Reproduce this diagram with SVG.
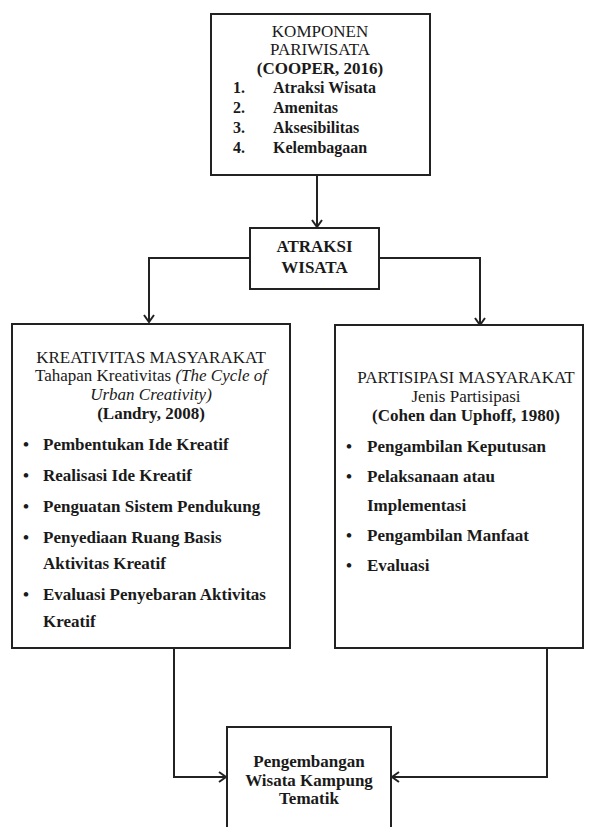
<svg xmlns="http://www.w3.org/2000/svg" width="596" height="827" viewBox="0 0 596 827">
<style>
  .box { fill: #fff; stroke: #222; stroke-width: 2; }
  .conn { fill: none; stroke: #222; stroke-width: 2; }
  text { font-family: "Liberation Serif", "Times New Roman", serif; font-size: 17px; fill: #1a1a1a; }
  .b { font-weight: bold; }
  .i { font-style: italic; }
  .c { text-anchor: middle; }
  .s16 { font-size: 16px; }
</style>
<defs>
  <marker id="arr" markerWidth="12" markerHeight="12" refX="10" refY="6" orient="auto" markerUnits="userSpaceOnUse">
    <path d="M3,1 L10,6 L3,11" fill="none" stroke="#222" stroke-width="2"/>
  </marker>
</defs>

<g id="connectors">
  <path class="conn" d="M317,175 L317,227" marker-end="url(#arr)"/>
  <path class="conn" d="M250,258 L149,258 L149,322" marker-end="url(#arr)"/>
  <path class="conn" d="M379,258 L480,258 L480,325" marker-end="url(#arr)"/>
  <path class="conn" d="M174,648 L174,777 L226,777" marker-end="url(#arr)"/>
  <path class="conn" d="M547,648 L547,777 L392,777" marker-end="url(#arr)"/>
</g>

<g id="komponen">
  <rect class="box" x="211" y="14" width="219" height="161"/>
  <text class="c" x="320" y="37">KOMPONEN</text>
  <text class="c" x="320" y="55">PARIWISATA</text>
  <text class="c b" x="320" y="74">(COOPER, 2016)</text>
  <text class="b s16" x="233" y="93">1.</text><text class="b s16" x="273" y="93">Atraksi Wisata</text>
  <text class="b s16" x="233" y="113">2.</text><text class="b s16" x="273" y="113">Amenitas</text>
  <text class="b s16" x="233" y="133">3.</text><text class="b s16" x="273" y="133">Aksesibilitas</text>
  <text class="b s16" x="233" y="153">4.</text><text class="b s16" x="273" y="153">Kelembagaan</text>
</g>

<g id="atraksi">
  <rect class="box" x="250" y="228" width="129" height="61"/>
  <text class="c b" x="314.5" y="252">ATRAKSI</text>
  <text class="c b" x="314.5" y="273">WISATA</text>
</g>

<g id="kreativitas">
  <rect class="box" x="12" y="324" width="278" height="324"/>
  <text class="c" x="151" y="363">KREATIVITAS MASYARAKAT</text>
  <text class="c" x="151" y="381">Tahapan Kreativitas <tspan class="i">(The Cycle of</tspan></text>
  <text class="c i" x="151" y="400">Urban Creativity)</text>
  <text class="c b" x="151" y="419">(Landry, 2008)</text>
  <text class="b" x="23" y="450">•</text><text class="b" x="43" y="450">Pembentukan Ide Kreatif</text>
  <text class="b" x="23" y="481">•</text><text class="b" x="43" y="481">Realisasi Ide Kreatif</text>
  <text class="b" x="23" y="512">•</text><text class="b" x="43" y="512">Penguatan Sistem Pendukung</text>
  <text class="b" x="23" y="543">•</text><text class="b" x="43" y="543">Penyediaan Ruang Basis</text>
  <text class="b" x="43" y="569">Aktivitas Kreatif</text>
  <text class="b" x="23" y="600">•</text><text class="b" x="43" y="600">Evaluasi Penyebaran Aktivitas</text>
  <text class="b" x="43" y="627">Kreatif</text>
</g>

<g id="partisipasi">
  <rect class="box" x="335" y="325" width="248" height="323"/>
  <text class="c" x="466" y="383">PARTISIPASI MASYARAKAT</text>
  <text class="c" x="466" y="402">Jenis Partisipasi</text>
  <text class="c b" x="466" y="421">(Cohen dan Uphoff, 1980)</text>
  <text class="b" x="346" y="452">•</text><text class="b" x="367" y="452">Pengambilan Keputusan</text>
  <text class="b" x="346" y="482">•</text><text class="b" x="367" y="482">Pelaksanaan atau</text>
  <text class="b" x="367" y="511">Implementasi</text>
  <text class="b" x="346" y="541">•</text><text class="b" x="367" y="541">Pengambilan Manfaat</text>
  <text class="b" x="346" y="571">•</text><text class="b" x="367" y="571">Evaluasi</text>
</g>

<g id="pengembangan">
  <rect class="box" x="227" y="727" width="164" height="110"/>
  <text class="c b" x="309" y="767">Pengembangan</text>
  <text class="c b" x="309" y="786">Wisata Kampung</text>
  <text class="c b" x="309" y="804">Tematik</text>
</g>
</svg>
